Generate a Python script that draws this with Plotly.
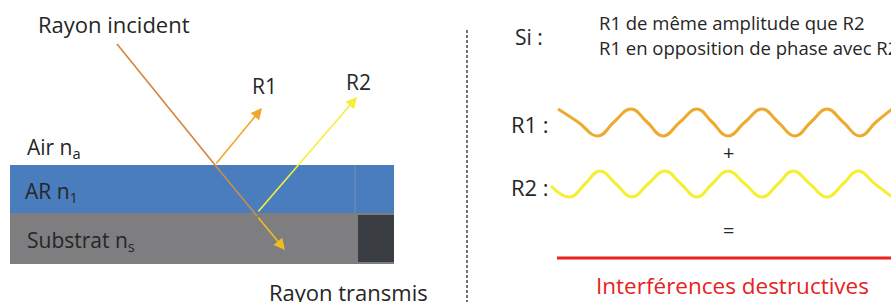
import plotly.graph_objects as go

# ---- diagram data (pixel space of the 891x302 picture, y downward) ----
incident_x = [117, 215, 257]
incident_y = [44, 165, 216]
transmit_tip = (285, 250)
r1_start = (215, 165); r1_tip = (262, 108)
r2_start = (257, 213); r2_tip = (357, 97)

layer_names = ["AR", "Substrat"]
layer_top = [165, 213]
layer_bottom = [213, 264]
layer_colors = ["#4a7dbd", "#7e7e80"]

wave_r1_x = [558, 578, 598, 614, 631, 647, 663, 680, 697, 712, 728, 745, 762, 778, 795, 811, 827, 843, 860, 876, 892]
wave_r1_y = [109, 122, 136, 122, 109, 122, 136, 122, 109, 122, 136, 122, 109, 122, 136, 122, 109, 122, 136, 122, 109]
wave_r2_x = [551, 570, 585, 600, 616, 632, 648, 665, 681, 697, 712, 728, 745, 762, 778, 793, 810, 827, 843, 858, 875, 892]
wave_r2_y = [186, 197, 184, 171, 184, 197, 184, 171, 184, 197, 184, 171, 184, 197, 184, 171, 184, 197, 184, 171, 184, 197]
result_x = [557, 891]
result_y = [258, 258]

FONT = "'Open Sans', sans-serif"
TXT = "#262626"

fig = go.Figure()

fig.add_trace(go.Scatter(x=incident_x[:2], y=incident_y[:2], mode="lines",
                         line=dict(color="#d6843c", width=1.6), hoverinfo="skip"))
fig.add_trace(go.Scatter(x=incident_x[1:], y=incident_y[1:], mode="lines",
                         line=dict(color="#c7904a", width=1.6), hoverinfo="skip"))
fig.add_trace(go.Scatter(x=wave_r1_x, y=wave_r1_y, mode="lines",
                         line=dict(color="#eeaa2e", width=3, shape="spline", smoothing=1.3), hoverinfo="skip"))
fig.add_trace(go.Scatter(x=wave_r2_x, y=wave_r2_y, mode="lines",
                         line=dict(color="#f6ee30", width=3, shape="spline", smoothing=1.3), hoverinfo="skip"))
fig.add_trace(go.Scatter(x=result_x, y=result_y, mode="lines",
                         line=dict(color="#e8221e", width=3), hoverinfo="skip"))

shapes = []
for top, bot, col in zip(layer_top, layer_bottom, layer_colors):
    shapes.append(dict(type="rect", x0=10, x1=394, y0=top, y1=bot, fillcolor=col,
                       line=dict(width=0), layer="below"))
shapes.append(dict(type="line", x0=355, x1=355, y0=165, y1=213, line=dict(color="#6f8fb5", width=1)))
shapes.append(dict(type="rect", x0=358, x1=394, y0=215, y1=262, fillcolor="#393c40",
                   line=dict(width=0)))
shapes.append(dict(type="line", x0=467, x1=467, y0=30, y1=302,
                   line=dict(color="#444444", width=1.5, dash="3px,2px")))

annotations = []
def arrow(start, tip, color):
    annotations.append(dict(x=tip[0], y=tip[1], ax=start[0], ay=start[1], xref="x", yref="y",
                            axref="x", ayref="y", showarrow=True, arrowhead=2, arrowsize=1.4,
                            arrowwidth=1.6, arrowcolor=color, text=""))
arrow((incident_x[-1], incident_y[-1]), transmit_tip, "#ebbd22")
arrow(r1_start, r1_tip, "#f2a72c")
arrow(r2_start, r2_tip, "#f5ee3a")

def txt(x, y, s, size=22, anchor="center", color=TXT):
    annotations.append(dict(x=x, y=y, xref="x", yref="y", text=s, showarrow=False,
                            xanchor=anchor, yanchor="middle",
                            font=dict(family=FONT, size=size, color=color)))

txt(114, 24, "Rayon incident")
txt(264, 86, "R1", size=21)
txt(358, 82, "R2", size=21)
txt(25, 148, "Air n<sub>a</sub>", size=21, anchor="left")
txt(23, 192, "AR n<sub>1</sub>", size=21, anchor="left")
txt(25, 241, "Substrat n<sub>s</sub>", size=21, anchor="left")
txt(348, 292, "Rayon transmis")
txt(529, 37, "Si :", size=21)
txt(597, 22, "R1 de même amplitude que R2", size=18.5, anchor="left")
txt(597, 47, "R1 en opposition de phase avec R2", size=18.5, anchor="left")
txt(509, 124, "R1 :", size=22, anchor="left")
txt(509, 187, "R2 :", size=22, anchor="left")
txt(728, 152, "+", size=20)
txt(728, 230, "=", size=20)
txt(732, 285, "Interférences destructives", size=22.5, color="#e8221e")

fig.update_layout(
    width=891, height=302, margin=dict(l=0, r=0, t=0, b=0),
    paper_bgcolor="white", plot_bgcolor="white", showlegend=False,
    xaxis=dict(range=[0, 891], visible=False, fixedrange=True),
    yaxis=dict(range=[302, 0], visible=False, fixedrange=True),
    shapes=shapes, annotations=annotations,
)
fig.write_html("out.html", config={"displayModeBar": False},
               post_script="document.body.style.margin='0';")
